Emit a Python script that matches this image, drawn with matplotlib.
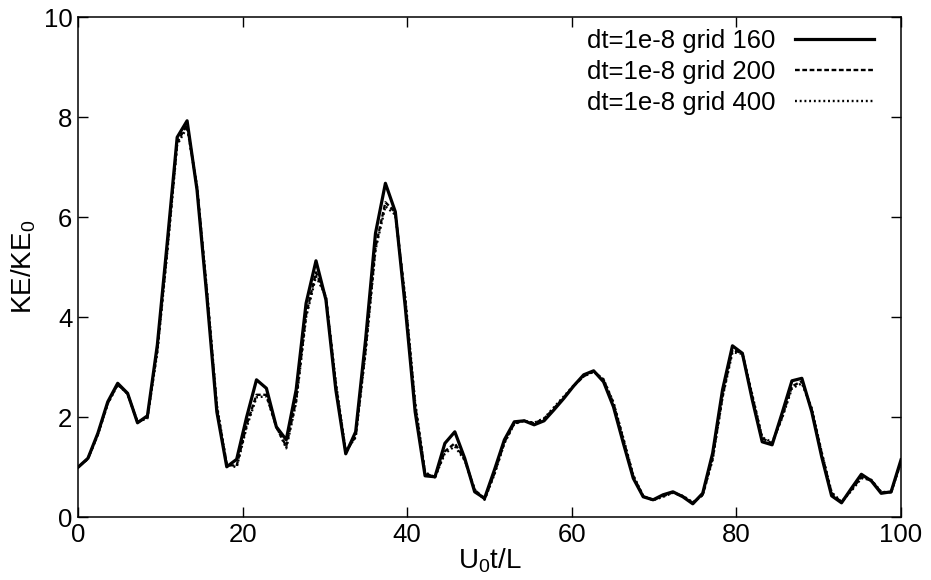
import numpy as np
import matplotlib
matplotlib.use("Agg")
import matplotlib.pyplot as plt

plt.rcParams['font.family'] = ['Liberation Sans', 'DejaVu Sans']
plt.rcParams['mathtext.default'] = 'regular'

# kinetic energy history, sampled every ~1.2 time units over 0..100
ke_grid160 = [
    1.00, 1.18, 1.68, 2.31, 2.68, 2.48, 1.89, 2.03, 3.45, 5.50,
    7.60, 7.93, 6.55, 4.40, 2.11, 1.01, 1.16, 2.00, 2.75, 2.58,
    1.81, 1.55, 2.55, 4.28, 5.13, 4.35, 2.55, 1.27, 1.71, 3.55,
    5.68, 6.68, 6.11, 4.21, 2.11, 0.83, 0.81, 1.48, 1.71, 1.18,
    0.51, 0.38, 0.95, 1.55, 1.91, 1.93, 1.85, 1.93, 2.15, 2.38,
    2.63, 2.85, 2.93, 2.71, 2.21, 1.48, 0.78, 0.41, 0.35, 0.45,
    0.51, 0.41, 0.27, 0.48, 1.28, 2.55, 3.43, 3.28, 2.35, 1.51,
    1.45, 2.08, 2.73, 2.78, 2.11, 1.21, 0.43, 0.29, 0.58, 0.86,
    0.73, 0.48, 0.51, 1.15,
]
ke_grid200 = [
    1.00, 1.17, 1.66, 2.28, 2.66, 2.47, 1.90, 2.00, 3.35, 5.35,
    7.50, 7.85, 6.60, 4.50, 2.20, 1.05, 1.03, 1.85, 2.45, 2.45,
    1.80, 1.42, 2.35, 4.05, 4.90, 4.40, 2.65, 1.30, 1.62, 3.35,
    5.40, 6.30, 6.10, 4.35, 2.25, 0.88, 0.80, 1.32, 1.48, 1.15,
    0.55, 0.36, 0.88, 1.50, 1.88, 1.93, 1.88, 1.97, 2.18, 2.40,
    2.63, 2.82, 2.92, 2.75, 2.28, 1.55, 0.82, 0.42, 0.35, 0.42,
    0.50, 0.42, 0.29, 0.45, 1.18, 2.42, 3.35, 3.28, 2.42, 1.58,
    1.48, 2.00, 2.62, 2.72, 2.15, 1.28, 0.48, 0.30, 0.55, 0.80,
    0.74, 0.50, 0.50, 1.12,
]
ke_grid400 = [
    1.00, 1.17, 1.65, 2.27, 2.65, 2.47, 1.91, 1.98, 3.30, 5.30,
    7.45, 7.80, 6.62, 4.55, 2.25, 1.06, 1.00, 1.80, 2.40, 2.42,
    1.82, 1.38, 2.30, 4.00, 4.82, 4.42, 2.70, 1.32, 1.60, 3.30,
    5.35, 6.22, 6.05, 4.40, 2.30, 0.90, 0.80, 1.28, 1.42, 1.14,
    0.56, 0.35, 0.86, 1.48, 1.87, 1.93, 1.89, 1.98, 2.20, 2.42,
    2.64, 2.82, 2.91, 2.76, 2.30, 1.58, 0.84, 0.43, 0.34, 0.41,
    0.49, 0.43, 0.30, 0.44, 1.15, 2.40, 3.30, 3.27, 2.45, 1.60,
    1.50, 1.98, 2.58, 2.68, 2.18, 1.30, 0.50, 0.31, 0.53, 0.78,
    0.75, 0.51, 0.50, 1.10,
]
t = np.linspace(0, 100, len(ke_grid160))

labels = ["dt=1e-8 grid 160", "dt=1e-8 grid 200", "dt=1e-8 grid 400"]

fig = plt.figure(figsize=(9.31, 5.80), dpi=100)
ax = fig.add_axes([0.0838, 0.1081, 0.8840, 0.8621])

ax.plot(t, ke_grid160, color='black', lw=2.3, ls='-', label=labels[0])
ax.plot(t, ke_grid200, color='black', lw=1.7, ls=(0, (2.0, 1.1)), label=labels[1])
ax.plot(t, ke_grid400, color='black', lw=1.7, ls=(0, (0.8, 1.2)), label=labels[2])

ax.set_xlim(0, 100)
ax.set_ylim(0, 10)
ax.set_xticks(np.arange(0, 101, 20))
ax.set_yticks(np.arange(0, 11, 2))
ax.tick_params(direction='in', top=True, right=True, length=7, width=1,
               labelsize=18.5, pad=4)
for s in ax.spines.values():
    s.set_linewidth(1.1)

ax.set_xlabel("U$_0$t/L", fontsize=20, labelpad=0)
ax.set_ylabel("KE/KE$_0$", fontsize=20, labelpad=4)

ax.legend(loc='upper right', frameon=False, markerfirst=False, fontsize=18.5,
          handlelength=3.1, handletextpad=0.75, labelspacing=0.28,
          borderaxespad=0.0, bbox_to_anchor=(0.98, 0.997))

fig.savefig("out.png", dpi=100)
